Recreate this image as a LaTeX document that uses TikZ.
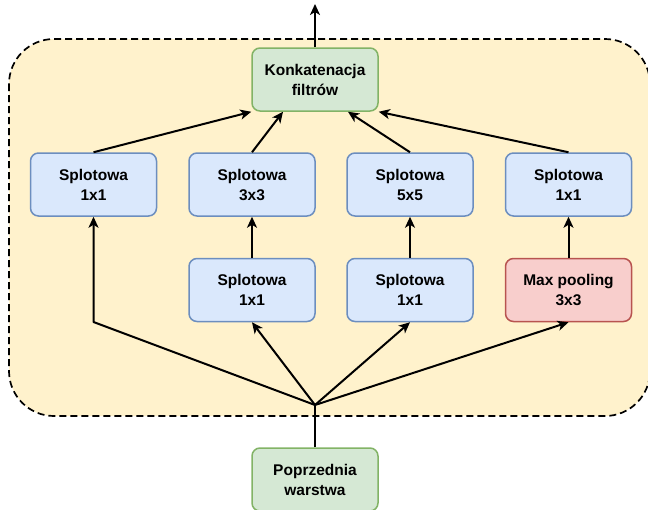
\documentclass[tikz,border=0pt]{standalone}
\usepackage{fontspec}
\setmainfont{Liberation Sans}
\usetikzlibrary{arrows.meta,calc}
\definecolor{bluefill}{HTML}{DAE8FC}
\definecolor{bluedraw}{HTML}{6C8EBF}
\definecolor{greenfill}{HTML}{D5E8D4}
\definecolor{greendraw}{HTML}{82B366}
\definecolor{redfill}{HTML}{F8CECC}
\definecolor{reddraw}{HTML}{B85450}
\definecolor{yellowfill}{HTML}{FFF2CC}
\begin{document}
\begin{tikzpicture}[x=1pt,y=-1pt,
  box/.style={rectangle, rounded corners=8pt, minimum width=126pt, minimum height=63pt,
    line width=1.5pt, align=center, inner sep=0pt,
    font=\fontsize{15.5}{20}\selectfont\bfseries},
  conv/.style={box, fill=bluefill, draw=bluedraw},
  green box/.style={box, fill=greenfill, draw=greendraw},
  pool/.style={box, fill=redfill, draw=reddraw},
  conn/.style={line width=2pt, draw=black, line join=round},
  arr/.style={conn, -{Stealth[length=11pt,width=10pt,inset=3pt]}}
]
\useasboundingbox (0,0) rectangle (648,509);
\path[fill=yellowfill, draw=black, line width=1.7pt, dash pattern=on 7pt off 4pt,
      rounded corners=45pt] (9,39) rectangle (650,416);

\node[green box] (konk) at (315,79.5) {Konkatenacja\\filtrów};
\node[conv] (a1) at (93.5,184.5) {Splotowa\\1x1};
\node[conv] (a2) at (252,184.5) {Splotowa\\3x3};
\node[conv] (a3) at (410,184.5) {Splotowa\\5x5};
\node[conv] (a4) at (568.5,184.5) {Splotowa\\1x1};
\node[conv] (b2) at (252,290) {Splotowa\\1x1};
\node[conv] (b3) at (410,290) {Splotowa\\1x1};
\node[pool] (b4) at (568.5,290) {Max pooling\\3x3};
\node[green box] (prev) at (315,479.5) {Poprzednia\\warstwa};

\coordinate (out) at (315,4);
\coordinate (J) at (315,405);
\coordinate (Lc) at (93.5,322);

\draw[arr] (konk.north) -- (out);
\draw[arr] (a1.north) -- (konk.south west);
\draw[arr] (a2.north) -- ([xshift=-32pt]konk.south);
\draw[arr] (a3.north) -- ([xshift=33pt]konk.south);
\draw[arr] (a4.north) -- (konk.south east);
\draw[arr] (b2.north) -- (a2.south);
\draw[arr] (b3.north) -- (a3.south);
\draw[arr] (b4.north) -- (a4.south);
\draw[conn] (prev.north) -- (J);
\draw[arr] (J) -- (Lc) -- (a1.south);
\draw[arr] (J) -- (b2.south);
\draw[arr] (J) -- (b3.south);
\draw[arr] (J) -- (b4.south);
\end{tikzpicture}
\end{document}
